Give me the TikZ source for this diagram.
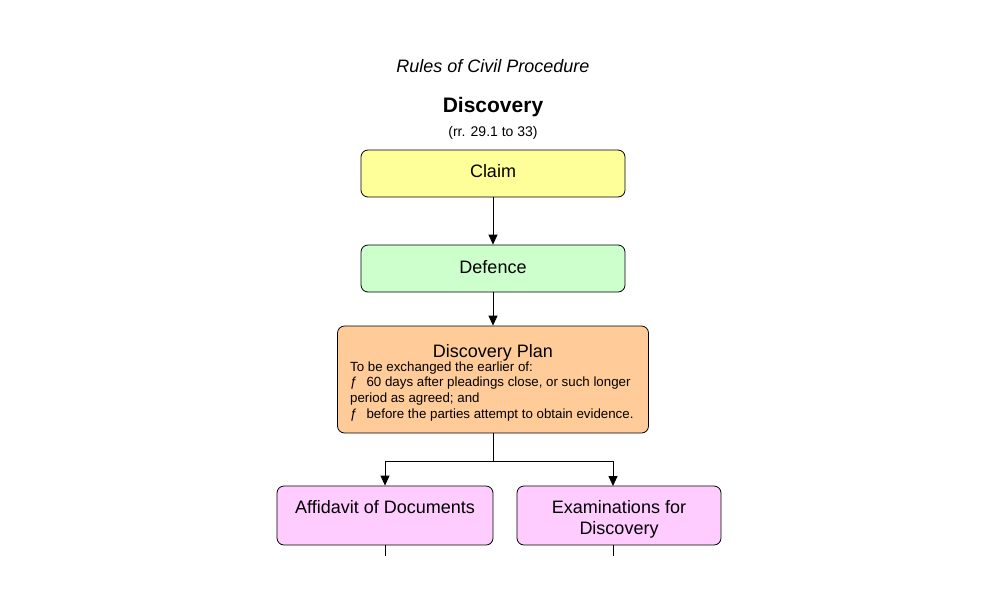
\documentclass[tikz,border=0pt]{standalone}
\usepackage{fontspec}
\setmainfont{Liberation Sans}
\usetikzlibrary{positioning,arrows.meta}
\definecolor{claimyellow}{HTML}{FFFF99}
\definecolor{defencegreen}{HTML}{CCFFCC}
\definecolor{planorange}{HTML}{FFCC99}
\definecolor{stagepink}{HTML}{FFCCFF}
\tikzset{
  stagebox/.style={draw=black, line width=0.8pt, rounded corners=7pt, inner sep=0pt},
  boxlabel/.style={inner sep=0pt, font=\fontsize{18}{21}\selectfont, align=center},
  flow/.style={line width=0.8pt, -{Triangle[width=9pt,length=10pt]}},
  plain/.style={line width=0.8pt}
}
\begin{document}
\begin{tikzpicture}[x=1pt,y=-1pt]
\useasboundingbox (0,0) rectangle (1000,600);

\def\midx{493}

% titles
\node[font=\fontsize{18}{21}\selectfont\itshape] (rules) at (\midx,66) {Rules of Civil Procedure};
\node[font=\fontsize{21}{24}\selectfont\bfseries] (disc) at (\midx,107) {Discovery};
\node[font=\fontsize{14}{16}\selectfont] (rr) at (\midx,132.5) {(rr. 29.1 to 33)};

% boxes
\node[stagebox, fill=claimyellow, minimum width=264pt, minimum height=47pt] (claim) at (\midx,173.5) {};
\node[stagebox, fill=defencegreen, minimum width=264pt, minimum height=47pt] (defence) at (\midx,268.5) {};
\node[stagebox, fill=planorange, minimum width=311pt, minimum height=107pt] (plan) at (\midx,379.5) {};
\node[stagebox, fill=stagepink, minimum width=216pt, minimum height=59pt] (affidavit) at (385,515.5) {};
\node[stagebox, fill=stagepink, minimum width=204pt, minimum height=59pt] (exam) at (619,515.5) {};

\node[boxlabel, below=14.5pt of claim.north] (claimtext) {Claim};
\node[boxlabel, below=15.5pt of defence.north] (defencetext) {Defence};
\node[boxlabel, below=19pt of plan.north] (plantitle) {Discovery Plan};
\node[inner sep=0pt, anchor=north west, align=left, font=\fontsize{13.3}{15.6}\selectfont] (plantext) at (350,361.5)
  {To be exchanged the earlier of:\\
   ƒ\hspace{9pt}60 days after pleadings close, or such longer\\
   period as agreed; and\\
   ƒ\hspace{9pt}before the parties attempt to obtain evidence.};
\node[boxlabel, below=15pt of affidavit.north] (affidavittext) {Affidavit of Documents};
\node[boxlabel, below=15pt of exam.north] (examtext) {Examinations for\\Discovery};

% connectors
\coordinate (split) at (\midx,461);
\coordinate (examin) at (613,486);
\coordinate (afftail) at (385,556);
\coordinate (examtail) at (613,556);

\draw[flow] (claim) -- (defence);
\draw[flow] (defence) -- (plan);
\draw[plain] (plan.south) -- (split);
\draw[flow] (split) -| (affidavit.north);
\draw[flow] (split) -| (examin);
\draw[plain] (affidavit.south) -- (afftail);
\draw[plain] (examin |- exam.south) -- (examtail);

\end{tikzpicture}
\end{document}
